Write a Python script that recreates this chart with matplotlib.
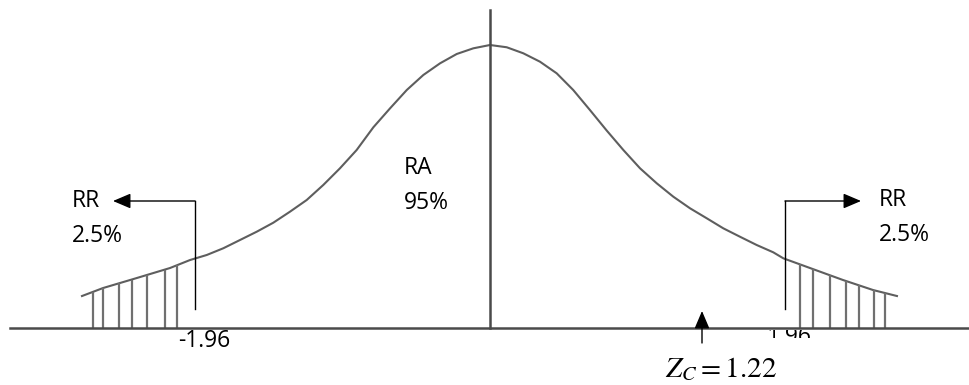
import matplotlib.pyplot as plt
import numpy as np
from matplotlib.transforms import Bbox

plt.rcParams['mathtext.fontset'] = 'stix'

# curve (z units, density)
curve_z = [-2.711, -2.571, -2.346, -2.126, -1.993, -1.882, -1.772, -1.661, -1.550,
           -1.440, -1.329, -1.218, -1.108, -0.997, -0.886, -0.775, -0.664, -0.553,
           -0.443, -0.332, -0.221, -0.111, 0.0, 0.111, 0.221, 0.332, 0.443, 0.553,
           0.664, 0.775, 0.886, 0.997, 1.108, 1.218, 1.329, 1.440, 1.550, 1.661,
           1.772, 1.882, 1.949, 2.126, 2.346, 2.545, 2.704]
curve_h = [0.0452, 0.0565, 0.0707, 0.0848, 0.0961, 0.1032, 0.1127, 0.1244, 0.1361,
           0.1488, 0.1644, 0.1809, 0.2021, 0.2257, 0.2516, 0.2837, 0.3105, 0.3364,
           0.3576, 0.3741, 0.3873, 0.3953, 0.4000, 0.3968, 0.3883, 0.3764, 0.3600, 0.3364,
           0.3081, 0.2792, 0.2516, 0.2257, 0.2045, 0.1856, 0.1692, 0.1551, 0.1409, 0.1290,
           0.1173, 0.1070, 0.0985, 0.0848, 0.0678, 0.0537, 0.0452]

crit = 1.96
z_calc = 1.22
hatch_left = [-2.640, -2.569, -2.463, -2.381, -2.277, -2.159, -2.078]
hatch_right = [2.060, 2.144, 2.259, 2.365, 2.454, 2.551, 2.627]
labels_rr = ['RR', '2.5%']
labels_ra = ['RA', '95%']

W, H = 970, 385
X0, SX = 490, 150.5      # pixel of z=0, pixels per z unit
Y0, SY = 328, 707.5      # pixel of baseline, pixels per density unit


def px(x, y):
    return (x - X0) / SX, (Y0 - y) / SY


fig = plt.figure(figsize=(W / 100, H / 100), dpi=100)
ax = fig.add_axes([0, 0, 1, 1])
ax.set_xlim(px(0, 0)[0], px(W, 0)[0])
ax.set_ylim(px(0, H)[1], px(0, 0)[1])
ax.axis('off')

axis_col = '#4a4a4a'
curve_col = '#5e5e5e'

# axes
ax.plot([px(10, 0)[0], px(W, 0)[0]], [0, 0], color=axis_col, lw=1.8, zorder=3)
ax.plot([0, 0], [0, px(0, 10)[1]], color=axis_col, lw=1.8, zorder=3)

# curve
ax.plot(curve_z, curve_h, color=curve_col, lw=1.5, zorder=2)

# hatching in the tails
for hx in (hatch_left, hatch_right):
    tops = np.interp(hx, curve_z, curve_h)
    ax.vlines(hx, 0, tops, color='#707070', lw=1.6, zorder=2)

# critical value markers with elbow arrows
fpt = 'Open Sans'
fs = 16.5
astyle = '-|>,head_length=0.4,head_width=0.17'
for side in (-1, 1):
    xc = side * crit
    y_lo, y_hi = px(0, 308.5)[1], px(0, 201)[1]
    ax.plot([xc, xc], [y_lo, y_hi], color='black', lw=1.0, zorder=4)
    tip = px(113 if side < 0 else 861, 0)[0]
    ax.annotate('', xy=(tip, y_hi), xytext=(xc, y_hi),
                arrowprops=dict(arrowstyle=astyle, mutation_scale=27,
                                color='black', lw=1.0, shrinkA=0, shrinkB=0),
                zorder=4)

# RR labels
tx_l = px(72, 0)[0]
tx_r = px(879, 0)[0]
ax.text(tx_l, px(0, 201)[1], labels_rr[0], fontsize=fs, family=fpt, va='center', ha='left')
t_l = ax.text(tx_l, px(0, 236)[1], labels_rr[1], fontsize=fs, family=fpt, va='center', ha='left')
t_l.set_clip_box(Bbox.from_extents(0, H - 243, W, H))
t_l.set_clip_on(True)
ax.text(tx_r, px(0, 200)[1], labels_rr[0], fontsize=fs, family=fpt, va='center', ha='left')
ax.text(tx_r, px(0, 235)[1], labels_rr[1], fontsize=fs, family=fpt, va='center', ha='left')

# RA labels
ax.text(px(404, 0)[0], px(0, 168)[1], labels_ra[0], fontsize=fs, family=fpt, va='center', ha='left')
ax.text(px(404, 0)[0], px(0, 203)[1], labels_ra[1], fontsize=fs, family=fpt, va='center', ha='left')

# critical value tick labels
ax.text(px(204, 0)[0], px(0, 341)[1], f'-{crit:.2f}', fontsize=fs, family=fpt,
        va='center', ha='center')
t_r = ax.text(px(789, 0)[0], px(0, 325)[1], f'{crit:.2f}', fontsize=fs, family=fpt,
              va='top', ha='center')
t_r.set_clip_box(Bbox.from_extents(0, H - 338, W, H - 330))
t_r.set_clip_on(True)

# calculated statistic
zx = px(702, 0)[0]
ax.annotate('', xy=(zx, px(0, 311)[1]), xytext=(zx, px(0, 343)[1]),
            arrowprops=dict(arrowstyle=astyle, mutation_scale=27,
                            color='black', lw=1.0, shrinkA=0, shrinkB=0),
            zorder=4)
ax.text(px(721, 0)[0], px(0, 369)[1], rf'$Z_C = {z_calc:.2f}$', fontsize=21,
        va='center', ha='center')

fig.savefig('out.png', dpi=100)
